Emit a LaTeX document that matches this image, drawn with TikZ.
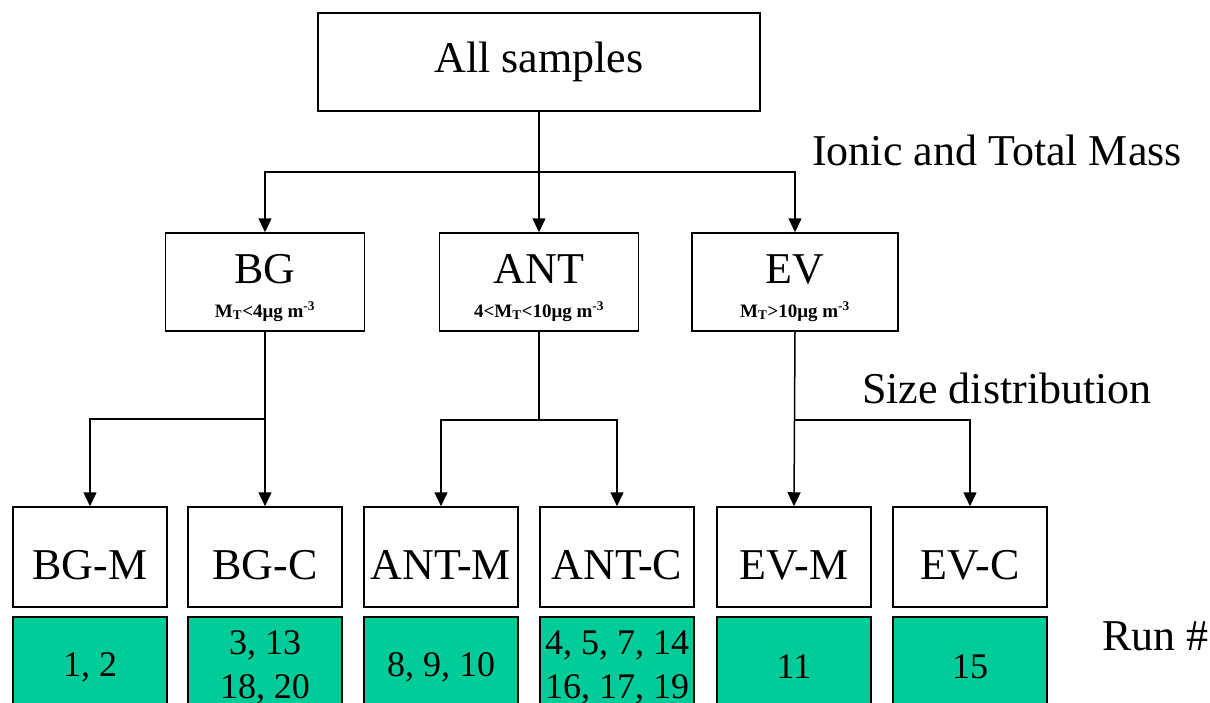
\documentclass[tikz,border=0pt]{standalone}
\usepackage{fontspec}
\setmainfont{Liberation Serif}
\usetikzlibrary{arrows.meta}
\definecolor{runGreen}{RGB}{0,204,153}
\begin{document}
\begin{tikzpicture}[x=1pt,y=-1pt,
  box/.style={draw=black, line width=1.5pt, fill=white, inner sep=0pt, font=\fontsize{44}{53}\selectfont},
  tier/.style={box, minimum width=199pt, minimum height=98pt, text height=29pt, text depth=27pt},
  leaf/.style={box, minimum width=154pt, minimum height=100pt, text height=44pt, text depth=0pt},
  run/.style={draw=black, line width=1.5pt, fill=runGreen, minimum width=154pt, minimum height=100pt, inner sep=0pt, align=center, font=\fontsize{36}{44}\selectfont},
  sub/.style={font=\fontsize{19}{22}\selectfont\bfseries, anchor=base, inner sep=0pt},
  lbl/.style={font=\fontsize{44}{53}\selectfont, anchor=base west, inner sep=0pt},
  arr/.style={line width=1.5pt, -{Triangle[width=13pt,length=14pt]}},
  ln/.style={line width=1.5pt}]
\clip (0,0) rectangle (1210,702);
% top
\node[box, minimum width=442pt, minimum height=98pt] (all) at (539,62) {All samples};
% tier
\node[tier] (bg) at (265,282) {BG};
\node[tier] (ant) at (539,282) {ANT};
\node[tier, minimum width=206pt] (ev) at (795,282) {EV};
\node[sub] (bgs) at (265,317) {M\textsubscript{T}<4μg m\textsuperscript{-3}};
\node[sub] (ants) at (539,317) {4<M\textsubscript{T}<10μg m\textsuperscript{-3}};
\node[sub] (evs) at (795,317) {M\textsubscript{T}>10μg m\textsuperscript{-3}};
% leaves
\node[leaf] (bgm) at (90,557) {BG-M};
\node[leaf] (bgc) at (265,557) {BG-C};
\node[leaf] (antm) at (441,557) {ANT-M};
\node[leaf] (antc) at (617,557) {ANT-C};
\node[leaf] (evm) at (794,557) {EV-M};
\node[leaf] (evc) at (970,557) {EV-C};
% runs
\node[run] (rbgm) at (90,667) {1, 2};
\node[run] (rbgc) at (265,667) {3, 13\\18, 20};
\node[run] (rantm) at (441,667) {8, 9, 10};
\node[run] (rantc) at (617,667) {4, 5, 7, 14\\16, 17, 19};
\node[run] (revm) at (794,667) {11};
\node[run] (revc) at (970,667) {15};
% labels
\node[lbl] (ionic) at (812,165) {Ionic and Total Mass};
\node[lbl] (size) at (862,403) {Size distribution};
\node[lbl] (runno) at (1102,650) {Run \#};
% junctions
\coordinate (h) at (539,172);
\coordinate (jb) at (265,419);
\coordinate (ja) at (539,420);
\coordinate (je) at (794,420);
% connectors
\draw[arr] (all.south) -- (ant.north);
\draw[arr] (h) -| (bg.north);
\draw[arr] (h) -| (ev.north);
\draw[arr] (bg.south) -- (bgc.north);
\draw[arr] (jb) -| (bgm.north);
\draw[ln] (ant.south) -- (ja);
\draw[arr] (ja) -| (antm.north);
\draw[arr] (ja) -| (antc.north);
\draw[arr] (ev.south) -- (evm.north);
\draw[arr] (je) -| (evc.north);
\end{tikzpicture}
\end{document}
